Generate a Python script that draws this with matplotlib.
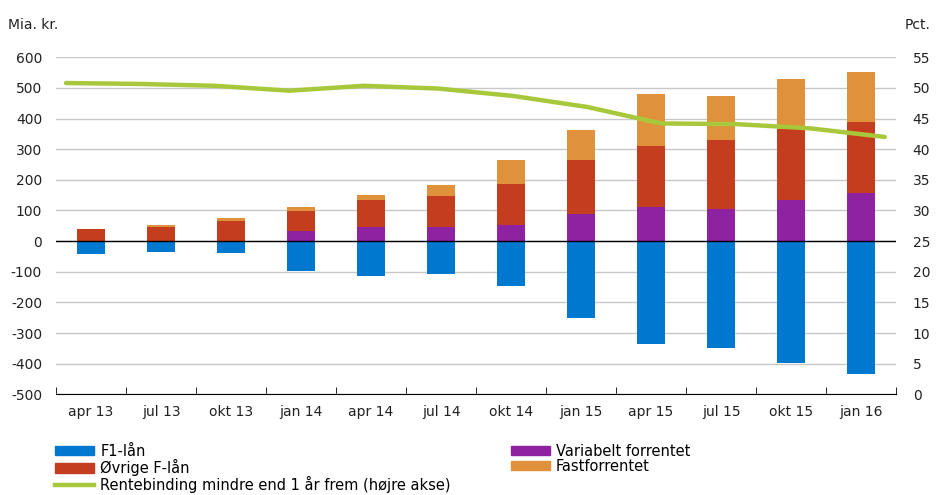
import numpy as np
import matplotlib
matplotlib.use("Agg")
from matplotlib import pyplot as plt
from matplotlib.patches import Patch
from matplotlib.lines import Line2D

kvartaler = ["apr 13", "jul 13", "okt 13", "jan 14", "apr 14", "jul 14",
             "okt 14", "jan 15", "apr 15", "jul 15", "okt 15", "jan 16"]

# Mia. kr.
f1_laan = [-41, -34, -40, -96, -113, -106, -145, -250, -335, -348, -397, -433]
variabelt = [-2, 0, 0, 34, 46, 46, 52, 89, 111, 105, 134, 158]
oevrige_f = [38, 47, 66, 65, 88, 101, 134, 175, 199, 225, 231, 231]
fastforrentet = [2, 5, 10, 12, 16, 36, 79, 98, 170, 144, 164, 163]

# Pct. (hoejre akse)
rentebinding = [50.8, 50.65, 50.35, 49.55, 50.35, 49.9, 48.7, 46.9, 44.2, 44.1, 43.4, 42.0]

blaa = "#0078D0"
roed = "#C53D1F"
lilla = "#8E22A0"
orange = "#DF923B"
groen = "#A8C83C"

plt.rcParams["axes.unicode_minus"] = False


def main():
    fig = plt.figure(figsize=(9.41, 4.95), dpi=100)
    ax = fig.add_axes([56 / 941, 1 - 394.3 / 495, 840 / 941, 337 / 495])
    ax2 = ax.twinx()

    x = np.arange(len(kvartaler))
    bredde = 0.4

    var = np.array(variabelt)
    var_pos = np.clip(var, 0, None)
    var_neg = np.clip(var, None, 0)
    f1 = np.array(f1_laan)
    oev = np.array(oevrige_f)

    ax.bar(x, f1, bredde, color=blaa, zorder=2)
    ax.bar(x, var_neg, bredde, bottom=f1, color=lilla, zorder=2)
    ax.bar(x, var_pos, bredde, color=lilla, zorder=2)
    ax.bar(x, oev, bredde, bottom=var_pos, color=roed, zorder=2)
    ax.bar(x, fastforrentet, bredde, bottom=var_pos + oev, color=orange, zorder=2)

    ax.set_xlim(-0.5, 11.5)
    ax.set_ylim(-500, 600)
    ax.set_yticks(range(-500, 601, 100))
    ax.yaxis.grid(True, color="#C8C8C8", linewidth=1, zorder=0)
    ax.set_axisbelow(True)
    ax.axhline(0, color="black", linewidth=1, zorder=3)

    # linjen sidder paa sin egen x-akse i originalen
    x_linje = np.linspace(-0.357, 11.34, len(rentebinding))
    ax2.plot(x_linje, rentebinding, color=groen, linewidth=3.2, solid_capstyle="round", zorder=4)
    ax2.set_ylim(0, 55)
    ax2.set_yticks(range(0, 56, 5))
    ax.set_zorder(ax2.get_zorder() - 1)
    ax.patch.set_visible(False)

    ax.set_xticks(x)
    ax.set_xticklabels(kvartaler)
    ax.set_xticks(np.arange(-0.5, 12, 1), minor=True)
    ax.tick_params(axis="x", which="major", length=0, pad=8, labelsize=10, colors="#222222")
    ax.tick_params(axis="x", which="minor", length=5, direction="in", color="black")
    ax.tick_params(axis="y", length=0, pad=10, labelsize=10, colors="#222222")
    ax2.tick_params(axis="y", length=0, pad=12, labelsize=10, colors="#222222")

    for a in (ax, ax2):
        for side in ("top", "left", "right", "bottom"):
            a.spines[side].set_visible(False)
    ax.spines["bottom"].set_visible(True)
    ax.spines["bottom"].set_color("black")

    fig.text(8 / 941, 1 - 25 / 495, "Mia. kr.", fontsize=10, color="#222222", va="center")
    fig.text(905 / 941, 1 - 25 / 495, "Pct.", fontsize=10, color="#222222", va="center")

    handles = [
        Patch(color=blaa, label="F1-lån"),
        Patch(color=roed, label="Øvrige F-lån"),
        Line2D([0], [0], color=groen, linewidth=3.2, label="Rentebinding mindre end 1 år frem (højre akse)"),
        Patch(color=lilla, label="Variabelt forrentet"),
        Patch(color=orange, label="Fastforrentet"),
    ]
    fig.legend(handles=handles, ncol=2, loc="upper left",
               bbox_to_anchor=(55 / 941, 1 - 444 / 495), frameon=False,
               fontsize=10.5, handlelength=2.7, handleheight=0.6, handletextpad=0.4,
               labelspacing=0.0, columnspacing=4.1, borderaxespad=0, borderpad=0)

    plt.savefig("out.png", dpi=100)


if __name__ == "__main__":
    main()
